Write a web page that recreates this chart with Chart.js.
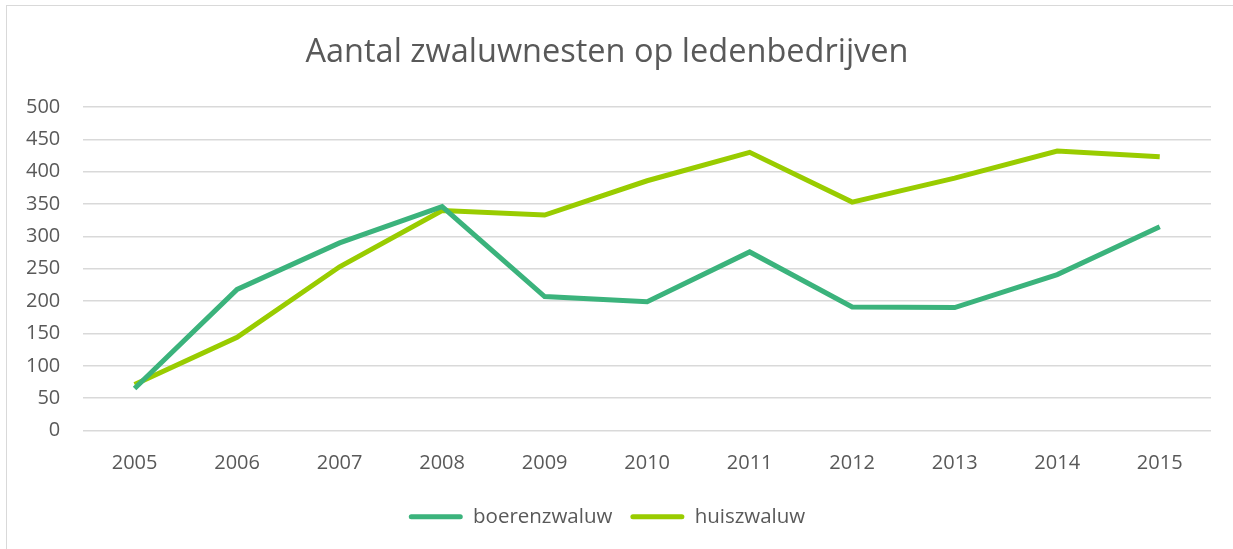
<!DOCTYPE html>
<html>
<head>
<meta charset="utf-8">
<script src="https://cdn.jsdelivr.net/npm/chart.js@4"></script>
<style>
  html, body { margin: 0; padding: 0; background: #fff; overflow: hidden; }
  #rand { position: absolute; left: 6px; top: 5px; right: 0; bottom: 0;
          border-left: 1px solid #d9d9d9; border-top: 1px solid #d9d9d9; }
  #wrap { position: absolute; left: 0; top: 0; width: 1233px; height: 549px; }
</style>
</head>
<body>
<div id="rand"></div>
<div id="wrap"><canvas id="CHARTZWALUW"></canvas></div>
<script>
const jaren = ['2005', '2006', '2007', '2008', '2009', '2010', '2011', '2012', '2013', '2014', '2015'];
const boerenzwaluw = [65, 218, 290, 346, 207, 199, 276, 191, 190, 241, 315];
const huiszwaluw = [71, 144, 253, 340, 333, 386, 430, 353, 390, 432, 423];

const ctx = document.getElementById('CHARTZWALUW');

new Chart(ctx, {
  type: 'line',
  data: {
    labels: jaren,
    datasets: [{
      label: 'boerenzwaluw',
      data: boerenzwaluw,
      borderColor: '#3bb37c',
      backgroundColor: '#3bb37c',
      borderWidth: 5,
      pointRadius: 0,
      tension: 0
    }, {
      label: 'huiszwaluw',
      data: huiszwaluw,
      borderColor: '#99cc00',
      backgroundColor: '#99cc00',
      borderWidth: 5,
      pointRadius: 0,
      tension: 0
    }]
  },
  options: {
    responsive: true,
    maintainAspectRatio: false,
    animation: false,
    layout: { padding: { left: 3, right: 22, top: 25, bottom: 12 } },
    plugins: {
      title: {
        display: true,
        text: 'Aantal zwaluwnesten op ledenbedrijven',
        color: '#595959',
        font: { family: 'Open Sans', size: 32.5, weight: 'normal' },
        padding: { top: 8, bottom: 35 }
      },
      legend: {
        position: 'bottom',
        labels: {
          color: '#595959',
          font: { family: 'Open Sans', size: 20.5 },
          boxWidth: 54,
          boxHeight: 5,
          padding: 18,
          generateLabels: function (chart) {
            return chart.data.datasets.map(function (ds, i) {
              return {
                text: ds.label,
                fillStyle: ds.borderColor,
                strokeStyle: ds.borderColor,
                lineWidth: 0,
                borderRadius: 2.5,
                fontColor: '#595959',
                datasetIndex: i
              };
            });
          }
        }
      }
    },
    scales: {
      x: {
        offset: true,
        grid: { display: false },
        border: { display: false },
        ticks: { color: '#595959', font: { family: 'Open Sans', size: 20 }, padding: 13 }
      },
      y: {
        min: 0,
        max: 500,
        ticks: { stepSize: 50, color: '#595959', font: { family: 'Open Sans', size: 20 }, padding: 23 },
        grid: { color: '#d9d9d9', lineWidth: 1.5, drawTicks: false },
        border: { display: false }
      }
    }
  }
});
</script>
</body>
</html>
